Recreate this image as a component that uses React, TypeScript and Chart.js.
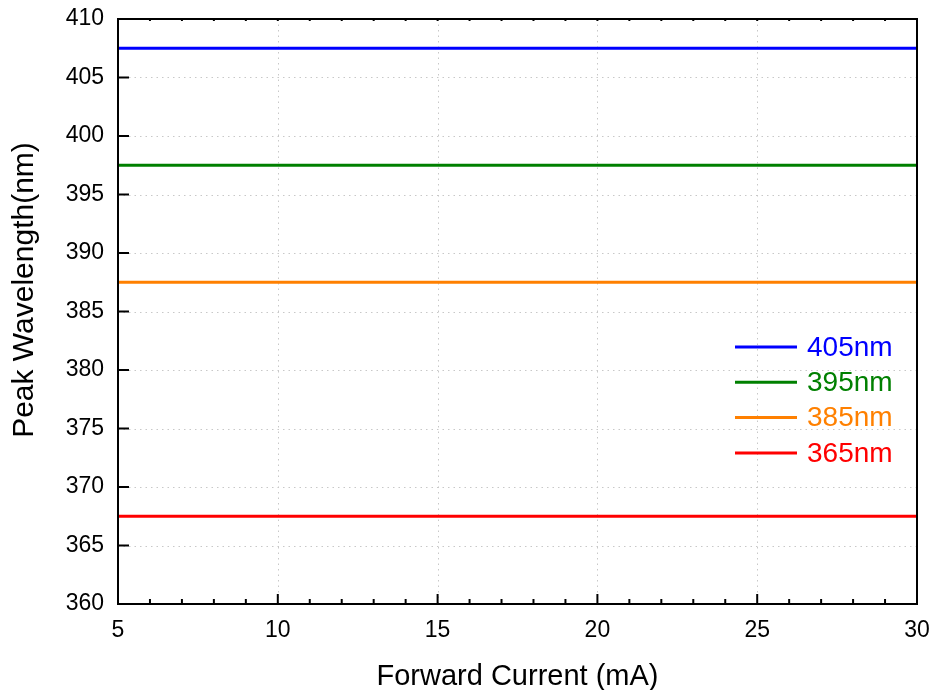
import React, { useEffect, useRef } from "react";
import { Chart, registerables } from "chart.js";

Chart.register(...registerables);

const currents = [5, 10, 15, 20, 25, 30];
const wl405 = [407.5, 407.5, 407.5, 407.5, 407.5, 407.5];
const wl395 = [397.5, 397.5, 397.5, 397.5, 397.5, 397.5];
const wl385 = [387.5, 387.5, 387.5, 387.5, 387.5, 387.5];
const wl365 = [367.5, 367.5, 367.5, 367.5, 367.5, 367.5];
const seriesNames = ["405nm", "395nm", "385nm", "365nm"];
const seriesColors = ["#0000ff", "#008000", "#ff8000", "#ff0000"];
const xTitle = "Forward Current (mA)";
const yTitle = "Peak Wavelength(nm)";

const FONT = "'Liberation Sans', Arial, sans-serif";

const decorPlugin = {
  id: "decor",
  beforeDatasetsDraw(chart: any) {
    const { ctx, chartArea, scales } = chart;
    const { left, right, top, bottom } = chartArea;
    ctx.save();
    ctx.strokeStyle = "#c8c8c8";
    ctx.lineWidth = 1;
    ctx.setLineDash([1.5, 4]);
    for (let v = 10; v < 30; v += 5) {
      const x = Math.round(scales.x.getPixelForValue(v)) + 0.5;
      ctx.beginPath();
      ctx.moveTo(x, top);
      ctx.lineTo(x, bottom);
      ctx.stroke();
    }
    for (let v = 365; v < 410; v += 5) {
      const y = Math.round(scales.y.getPixelForValue(v)) + 0.5;
      ctx.beginPath();
      ctx.moveTo(left, y);
      ctx.lineTo(right, y);
      ctx.stroke();
    }
    ctx.restore();
  },
  afterDatasetsDraw(chart: any) {
    const { ctx, chartArea, scales } = chart;
    const { left, right, top, bottom } = chartArea;
    ctx.save();
    ctx.setLineDash([]);
    ctx.strokeStyle = "#000";
    ctx.lineWidth = 2;
    ctx.strokeRect(left, top, right - left, bottom - top);
    for (let v = 5; v <= 30; v += 1) {
      const x = scales.x.getPixelForValue(v);
      const len = v % 5 === 0 ? 10 : 5;
      ctx.beginPath();
      ctx.moveTo(x, bottom);
      ctx.lineTo(x, bottom - len);
      ctx.stroke();
      ctx.beginPath();
      ctx.moveTo(x, top);
      ctx.lineTo(x, top + 2);
      ctx.stroke();
    }
    for (let v = 360; v <= 410; v += 5) {
      const y = scales.y.getPixelForValue(v);
      ctx.beginPath();
      ctx.moveTo(left, y);
      ctx.lineTo(left + 11, y);
      ctx.stroke();
    }
    const legendX = 735;
    const legendTop = 347;
    const rowH = 35.3;
    ctx.font = `28px ${FONT}`;
    ctx.textBaseline = "middle";
    ctx.textAlign = "left";
    seriesNames.forEach((name, i) => {
      const y = legendTop + i * rowH;
      ctx.strokeStyle = seriesColors[i];
      ctx.lineWidth = 3;
      ctx.beginPath();
      ctx.moveTo(legendX, y);
      ctx.lineTo(legendX + 62, y);
      ctx.stroke();
      ctx.fillStyle = seriesColors[i];
      ctx.fillText(name, 807, y + 1);
    });
    ctx.fillStyle = "#000";
    ctx.textAlign = "center";
    ctx.textBaseline = "alphabetic";
    ctx.font = `29px ${FONT}`;
    ctx.fillText(xTitle, (left + right) / 2, 685);
    ctx.translate(33, 290);
    ctx.rotate(-Math.PI / 2);
    ctx.font = `30px ${FONT}`;
    ctx.fillText(yTitle, 0, 0);
    ctx.restore();
  },
};

export default function App() {
  const ref = useRef<HTMLCanvasElement | null>(null);
  useEffect(() => {
    if (!ref.current) return;
    const datasets = [wl405, wl395, wl385, wl365].map((vals, i) => ({
      label: seriesNames[i],
      data: currents.map((x, j) => ({ x, y: vals[j] })),
      borderColor: seriesColors[i],
      backgroundColor: seriesColors[i],
      borderWidth: 3,
      pointRadius: 0,
      tension: 0,
    }));
    const zeroPad = (s: any) => {
      s.paddingLeft = 0;
      s.paddingRight = 0;
      s.paddingTop = 0;
      s.paddingBottom = 0;
    };
    const chart = new Chart(ref.current, {
      type: "line",
      data: { datasets },
      plugins: [decorPlugin],
      options: {
        animation: false,
        responsive: false,
        devicePixelRatio: 1,
        layout: { padding: { top: 19, right: 16, left: 0, bottom: 0 } },
        plugins: { legend: { display: false }, tooltip: { enabled: false } },
        scales: {
          x: {
            type: "linear",
            min: 5,
            max: 30,
            grid: { display: false, drawTicks: false },
            border: { display: false },
            ticks: {
              stepSize: 5,
              padding: 13,
              color: "#000",
              font: { family: FONT, size: 23 },
              maxRotation: 0,
            },
            afterFit: (s: any) => {
              s.height = 86;
              zeroPad(s);
            },
          },
          y: {
            type: "linear",
            min: 360,
            max: 410,
            grid: { display: false, drawTicks: false },
            border: { display: false },
            ticks: {
              stepSize: 5,
              padding: 14,
              color: "#000",
              font: { family: FONT, size: 23 },
            },
            afterFit: (s: any) => {
              s.width = 118;
              zeroPad(s);
            },
          },
        },
      },
    } as any);
    return () => chart.destroy();
  }, []);
  return (
    <div style={{ position: "absolute", left: 0, top: 0, width: 933, height: 690, background: "#fff" }}>
      <canvas ref={ref} width={933} height={690} style={{ width: 933, height: 690 }} />
    </div>
  );
}
